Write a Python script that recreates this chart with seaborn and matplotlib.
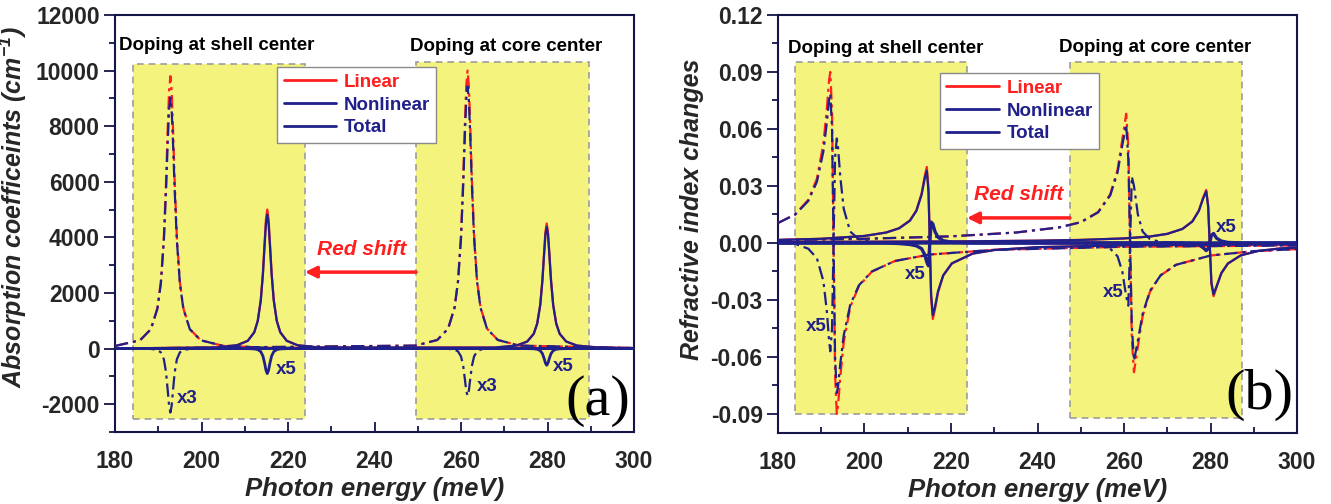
import matplotlib
matplotlib.use("Agg")
import matplotlib.pyplot as plt
import seaborn as sns
from matplotlib.patches import Rectangle
from matplotlib.lines import Line2D

# ---------------- data: (a) absorption coefficients ----------------
# shell doping, first transition (dash-dot), nonlinear shown x3
abs_shell_dd_x = [180, 185.8, 188.3, 189.8, 190.6, 191.3, 191.8, 192.2, 192.5, 192.8, 193.1,
                  193.4, 193.8, 194.3, 195.0, 195.8, 197.3, 199.8, 204.8, 215, 300]
abs_shell_dd_lin = [93, 300, 700, 1450, 2390, 4020, 5980, 7970, 9260, 9800, 9260,
                    7970, 5980, 4020, 2390, 1450, 700, 300, 105, 31, 0]
abs_shell_dd_nl3 = [0, -2, -12, -50, -137, -386, -856, -1520, -2054, -2300, -2054,
                    -1520, -856, -386, -137, -50, -12, -2, 0, 0, 0]
abs_shell_dd_tot = [93, 300, 696, 1433, 2344, 3891, 5695, 7463, 8575, 9033, 8575,
                    7463, 5695, 3891, 2344, 1433, 696, 300, 105, 31, 0]
# shell doping, second transition (solid), nonlinear shown x5
abs_shell_s_x = [180, 203.2, 208.2, 210.7, 212.2, 213.0, 213.7, 214.2, 214.6, 214.9, 215.2,
                 215.5, 215.8, 216.2, 216.7, 217.4, 218.2, 219.7, 222.2, 227.2, 300]
abs_shell_s_lin = [5, 40, 120, 280, 590, 1000, 1750, 2740, 3855, 4655, 5000,
                   4655, 3855, 2740, 1750, 1000, 590, 280, 120, 40, 2]
abs_shell_s_nl5 = [0, 0, 0, -3, -13, -36, -110, -270, -535, -780, -900,
                   -780, -535, -270, -110, -36, -13, -3, 0, 0, 0]
abs_shell_s_tot = [5, 40, 120, 279, 587, 993, 1728, 2686, 3748, 4499, 4820,
                   4499, 3748, 2686, 1728, 993, 587, 279, 120, 40, 2]
# core doping, first transition (dash-dot), nonlinear x3
abs_core_dd_x = [180, 249.5, 254.5, 257.0, 258.5, 259.3, 260.0, 260.5, 260.9, 261.2, 261.5,
                 261.8, 262.1, 262.5, 263.0, 263.7, 264.5, 266.0, 268.5, 273.5, 300]
abs_core_dd_lin = [0, 107, 310, 716, 1480, 2440, 4100, 6100, 8130, 9450, 10000,
                   9450, 8130, 6100, 4100, 2440, 1480, 716, 310, 107, 20]
abs_core_dd_nl3 = [0, 0, -2, -9, -37, -101, -286, -632, -1124, -1518, -1700,
                   -1518, -1124, -632, -286, -101, -37, -9, -2, 0, 0]
abs_core_dd_tot = [0, 107, 309, 713, 1468, 2406, 4005, 5889, 7755, 8944, 9433,
                   8944, 7755, 5889, 4005, 2406, 1468, 713, 309, 107, 20]
# core doping, second transition (solid), nonlinear x5
abs_core_s_x = [180, 267.8, 272.8, 275.3, 276.8, 277.6, 278.3, 278.8, 279.2, 279.5, 279.8,
                280.1, 280.4, 280.8, 281.3, 282.0, 282.8, 284.3, 286.8, 291.8, 300]
abs_core_s_lin = [0, 37, 108, 254, 533, 900, 1575, 2466, 3470, 4190, 4500,
                  4190, 3470, 2466, 1575, 900, 533, 254, 108, 37, 16]
abs_core_s_nl5 = [0, 0, 0, -2, -8, -24, -74, -180, -356, -520, -600,
                  -520, -356, -180, -74, -24, -8, -2, 0, 0, 0]
abs_core_s_tot = [0, 37, 108, 254, 530, 895, 1560, 2430, 3399, 4086, 4380,
                  4086, 3399, 2430, 1560, 895, 530, 254, 108, 37, 16]

# ---------------- data: (b) refractive index changes ----------------
ri_shell_dd_x = [180, 184, 187, 189, 190.5, 191.3, 191.8, 192.1, 192.5, 192.85, 193.2, 193.6,
                 193.9, 194.4, 195.2, 196.7, 198.7, 201.7, 207, 215, 230, 260, 300]
ri_shell_dd_lin = [0.0105, 0.0151, 0.0227, 0.0338, 0.0522, 0.0707, 0.0854, 0.0900, 0.0690, 0.0,
                   -0.0690, -0.0900, -0.0854, -0.0707, -0.0522, -0.0338, -0.0227, -0.0151,
                   -0.0095, -0.0061, -0.0036, -0.0020, -0.0013]
ri_shell_dd_nl5 = [0.0, -0.0005, -0.003, -0.008, -0.020, -0.036, -0.051, -0.057, -0.045, 0.0,
                   0.045, 0.055, 0.050, 0.035, 0.018, 0.006, 0.002, 0.0005, 0, 0, 0, 0, 0]
ri_shell_dd_tot = [0.0105, 0.0150, 0.0221, 0.0322, 0.0482, 0.0635, 0.0752, 0.0786, 0.0600, 0.0,
                   -0.0600, -0.0790, -0.0754, -0.0637, -0.0486, -0.0326, -0.0223, -0.0150,
                   -0.0095, -0.0061, -0.0036, -0.0020, -0.0013]

ri_shell_s_x = [180, 190, 200, 205, 208, 210.5, 212, 213.2, 213.9, 214.4, 214.8, 215.1, 215.4,
                215.8, 216.3, 217, 218.2, 220.2, 225, 230, 240, 260, 300]
ri_shell_s_lin = [0.0016, 0.0022, 0.0037, 0.0055, 0.0078, 0.0119, 0.0172, 0.0260, 0.0348, 0.0400,
                  0.0290, 0.0, -0.0290, -0.0400, -0.0348, -0.0260, -0.0172, -0.0108, -0.0056,
                  -0.0037, -0.0022, -0.0012, -0.0007]
ri_shell_s_nl5 = [0, 0, 0, 0, -0.0003, -0.0008, -0.0015, -0.003, -0.006, -0.010, -0.012, 0.0,
                  0.011, 0.010, 0.006, 0.003, 0.0012, 0.0004, 0, 0, 0, 0, 0]
ri_shell_s_tot = [0.0016, 0.0022, 0.0037, 0.0055, 0.0077, 0.0117, 0.0169, 0.0254, 0.0336, 0.0380,
                  0.0266, 0.0, -0.0268, -0.0380, -0.0336, -0.0254, -0.0170, -0.0107, -0.0056,
                  -0.0037, -0.0022, -0.0012, -0.0007]

ri_core_dd_x = [180, 200, 220, 235, 245, 250, 254, 256.8, 258.5, 259.6, 260.5, 261.0, 261.4,
                261.8, 262.3, 263.2, 264.3, 266, 268.5, 272, 280, 290, 300]
ri_core_dd_lin = [0.0015, 0.0022, 0.0035, 0.0055, 0.0082, 0.0110, 0.0163, 0.0256, 0.0385, 0.0544,
                  0.0680, 0.0505, 0.0, -0.0505, -0.0680, -0.0544, -0.0385, -0.0256, -0.0170,
                  -0.0115, -0.0066, -0.0043, -0.0032]
ri_core_dd_nl5 = [0, 0, 0, 0, 0, -0.0003, -0.001, -0.003, -0.007, -0.015, -0.028, -0.033, 0.0,
                  0.035, 0.030, 0.015, 0.006, 0.002, 0.0005, 0, 0, 0, 0]
ri_core_dd_tot = [0.0015, 0.0022, 0.0035, 0.0055, 0.0082, 0.0109, 0.0161, 0.0250, 0.0371, 0.0514,
                  0.0624, 0.0439, 0.0, -0.0435, -0.0620, -0.0514, -0.0373, -0.0252, -0.0169,
                  -0.0115, -0.0066, -0.0043, -0.0032]

ri_core_s_x = [180, 220, 240, 250, 260, 266, 270, 273.5, 275.8, 277.3, 278.3, 279.0, 279.45,
               279.8, 280.2, 280.7, 281.4, 282.5, 284, 287, 291, 296, 300]
ri_core_s_lin = [0.0005, 0.0008, 0.0012, 0.0016, 0.0024, 0.0034, 0.0048, 0.0074, 0.0114, 0.0171,
                 0.0240, 0.0279, 0.0197, 0.0, -0.0216, -0.0280, -0.0232, -0.0160, -0.0109,
                 -0.0065, -0.0042, -0.0029, -0.0024]
ri_core_s_nl5 = [0, 0, 0, 0, 0, 0, 0, 0, -0.0003, -0.001, -0.0025, -0.004, -0.003, 0.0,
                 0.004, 0.005, 0.0025, 0.001, 0.0003, 0, 0, 0, 0]
ri_core_s_tot = [0.0005, 0.0008, 0.0012, 0.0016, 0.0024, 0.0034, 0.0048, 0.0074, 0.0113, 0.0169,
                 0.0235, 0.0271, 0.0191, 0.0, -0.0208, -0.0270, -0.0227, -0.0158, -0.0108,
                 -0.0065, -0.0042, -0.0029, -0.0024]

legend_labels = ["Linear", "Nonlinear", "Total"]
region_labels = ["Doping at shell center", "Doping at core center"]

# ---------------- style ----------------
sns.set_theme(style="white")
plt.rcParams["font.family"] = ["Liberation Sans", "DejaVu Sans"]
plt.rcParams["font.weight"] = "bold"
plt.rcParams["mathtext.default"] = "regular"

NAVY = "#20208a"
RED = "#ff1f1f"
YELLOW = "#f3f37e"
SPINE = "#15154a"
DASHDOT = (0, (6, 2.2, 1.4, 2.2))

fig = plt.figure(figsize=(13.31, 5.04), dpi=100)
ax1 = fig.add_axes([0.0864, 0.1429, 0.3900, 0.8274])
ax2 = fig.add_axes([0.5845, 0.1409, 0.3900, 0.8294])


def draw(ax, x, y, color, ls, lw=1.6, z=3):
    sns.lineplot(x=x, y=y, ax=ax, color=color, linestyle=ls, linewidth=lw,
                 sort=False, estimator=None, legend=False, zorder=z)


def draw_set(ax, x, lin, nl, tot, ls, nl_lw=1.6):
    draw(ax, x, lin, RED, ls, 1.6, 3)
    draw(ax, x, nl, NAVY, ls, nl_lw, 4)
    draw(ax, x, tot, NAVY, ls, 1.6, 5)


def style_axes(ax, ylim, ymajor, yminor, ylabel, label_xy):
    ax.set_xlim(180, 300)
    ax.set_ylim(*ylim)
    ax.set_xticks([180, 200, 220, 240, 260, 280, 300])
    ax.set_xticks([190, 210, 230, 250, 270, 290], minor=True)
    ax.set_yticks(ymajor)
    ax.set_yticks(yminor, minor=True)
    for s in ax.spines.values():
        s.set_color(SPINE)
        s.set_linewidth(1.5)
        s.set_visible(True)
    ax.tick_params(axis="x", which="both", direction="in", bottom=True, top=False,
                   color=SPINE, width=1.3, labelsize=16.5, pad=13)
    ax.tick_params(axis="x", which="major", length=7)
    ax.tick_params(axis="x", which="minor", length=4)
    ax.tick_params(axis="y", which="both", direction="out", left=True, right=False,
                   color=SPINE, width=1.3, labelsize=16.5, pad=3)
    ax.tick_params(axis="y", which="major", length=8)
    ax.tick_params(axis="y", which="minor", length=4)
    ax.set_xlabel("Photon energy (meV)", fontsize=18.5, fontstyle="italic",
                  fontweight="bold", labelpad=3)
    ax.set_ylabel(ylabel, fontsize=18, fontstyle="italic", fontweight="bold")
    ax.yaxis.set_label_coords(*label_xy)
    ax.grid(False)


def add_region(ax, x0, x1, y0, y1):
    ax.add_patch(Rectangle((x0, y0), x1 - x0, y1 - y0, facecolor=YELLOW,
                           edgecolor="#9c9c9c", linestyle=(0, (4, 3)), linewidth=1.2,
                           zorder=0.5))


def add_legend(ax, anchor):
    handles = [Line2D([], [], color=c, lw=2) for c in (RED, NAVY, NAVY)]
    leg = ax.legend(handles, legend_labels, loc="upper left", bbox_to_anchor=anchor,
                    borderaxespad=0, frameon=True, fancybox=False, edgecolor="#8a8a8a",
                    framealpha=1, fontsize=13.5, handlelength=2.8, handletextpad=0.4,
                    borderpad=0.35, labelspacing=0.3)
    leg.get_frame().set_linewidth(1.0)
    for t, c in zip(leg.get_texts(), (RED, NAVY, NAVY)):
        t.set_color(c)
        t.set_fontweight("bold")
    leg.set_zorder(10)


# ---------------- panel (a) ----------------
add_region(ax1, 184.1, 223.9, -2550, 10250)
add_region(ax1, 249.6, 289.6, -2550, 10320)
draw_set(ax1, abs_shell_dd_x, abs_shell_dd_lin, abs_shell_dd_nl3, abs_shell_dd_tot, DASHDOT)
draw_set(ax1, abs_core_dd_x, abs_core_dd_lin, abs_core_dd_nl3, abs_core_dd_tot, DASHDOT)
draw_set(ax1, abs_shell_s_x, abs_shell_s_lin, abs_shell_s_nl5, abs_shell_s_tot, "-", 2.0)
draw_set(ax1, abs_core_s_x, abs_core_s_lin, abs_core_s_nl5, abs_core_s_tot, "-", 2.0)
style_axes(ax1, (-3000, 12000), list(range(-2000, 12001, 2000)),
           list(range(-3000, 12000, 1000)), "Absorption coefficeints (cm$^{-1}$)",
           (-0.165, 0.54))
ax1.set_yticklabels([str(v) for v in range(-2000, 12001, 2000)])
add_legend(ax1, (0.312, 0.875))
ax1.text(203.4, 10900, region_labels[0], ha="center", va="center", fontsize=13.5,
         fontweight="bold", color="black")
ax1.text(270.4, 10850, region_labels[1], ha="center", va="center", fontsize=13.5,
         fontweight="bold", color="black")
ax1.annotate("", xy=(223.9, 2750), xytext=(249.6, 2750),
             arrowprops=dict(arrowstyle="-|>", color=RED, lw=2.5, mutation_scale=17,
                             shrinkA=0, shrinkB=0))
ax1.text(237.0, 3550, "Red shift", ha="center", va="center", fontsize=15,
         fontweight="bold", fontstyle="italic", color=RED)
for x, y, s in [(196.8, -1800, "x3"), (219.6, -750, "x5"),
                (266.0, -1350, "x3"), (283.6, -650, "x5")]:
    ax1.text(x, y, s, ha="center", va="center", fontsize=13.5, fontweight="bold",
             color=NAVY, zorder=6)
ax1.text(291.6, -1900, "(a)", ha="center", va="center", fontsize=42,
         family="Liberation Serif", fontweight="normal", color="black", zorder=6)

# ---------------- panel (b) ----------------
add_region(ax2, 183.9, 223.7, -0.090, 0.0953)
add_region(ax2, 247.5, 287.3, -0.092, 0.0953)
draw_set(ax2, ri_shell_dd_x, ri_shell_dd_lin, ri_shell_dd_nl5, ri_shell_dd_tot, DASHDOT)
draw_set(ax2, ri_core_dd_x, ri_core_dd_lin, ri_core_dd_nl5, ri_core_dd_tot, DASHDOT)
draw_set(ax2, ri_shell_s_x, ri_shell_s_lin, ri_shell_s_nl5, ri_shell_s_tot, "-", 2.4)
draw_set(ax2, ri_core_s_x, ri_core_s_lin, ri_core_s_nl5, ri_core_s_tot, "-", 2.4)
yt = [-0.09, -0.06, -0.03, 0.0, 0.03, 0.06, 0.09, 0.12]
style_axes(ax2, (-0.1, 0.12), yt, [-0.075, -0.045, -0.015, 0.015, 0.045, 0.075, 0.105],
           "Refractive index changes", (-0.142, 0.535))
ax2.set_yticklabels([f"{v:.2f}" for v in yt])
add_legend(ax2, (0.312, 0.861))
ax2.text(205.0, 0.1025, region_labels[0], ha="center", va="center", fontsize=13.5,
         fontweight="bold", color="black")
ax2.text(267.3, 0.1030, region_labels[1], ha="center", va="center", fontsize=13.5,
         fontweight="bold", color="black")
ax2.annotate("", xy=(223.7, 0.0132), xytext=(247.5, 0.0132),
             arrowprops=dict(arrowstyle="-|>", color=RED, lw=2.5, mutation_scale=17,
                             shrinkA=0, shrinkB=0))
ax2.text(235.6, 0.0255, "Red shift", ha="center", va="center", fontsize=15,
         fontweight="bold", fontstyle="italic", color=RED)
for x, y, s in [(188.8, -0.044, "x5"), (211.7, -0.0168, "x5"),
                (257.5, -0.0258, "x5"), (283.7, 0.0080, "x5")]:
    ax2.text(x, y, s, ha="center", va="center", fontsize=13.5, fontweight="bold",
             color=NAVY, zorder=6)
ax2.text(291.4, -0.0800, "(b)", ha="center", va="center", fontsize=42,
         family="Liberation Serif", fontweight="normal", color="black", zorder=6)

fig.savefig("out.png", dpi=100)
